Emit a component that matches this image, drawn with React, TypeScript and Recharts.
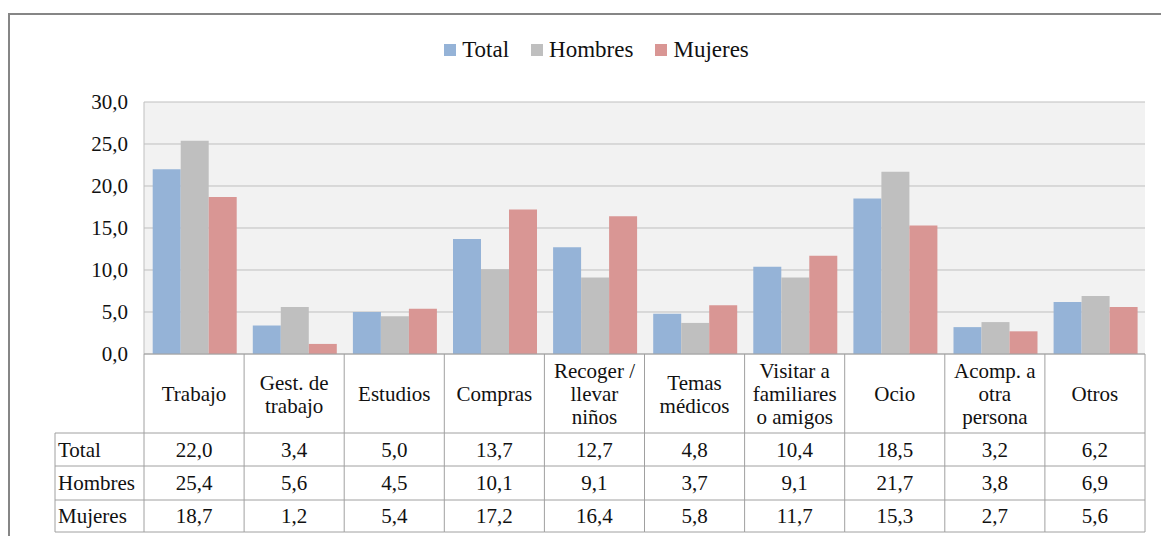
import { BarChart, Bar, XAxis, YAxis, CartesianGrid, Legend } from "recharts";

const categories = [
  "Trabajo",
  "Gest. de\ntrabajo",
  "Estudios",
  "Compras",
  "Recoger /\nllevar\nniños",
  "Temas\nmédicos",
  "Visitar a\nfamiliares\no amigos",
  "Ocio",
  "Acomp. a\notra\npersona",
  "Otros",
];
const total = [22.0, 3.4, 5.0, 13.7, 12.7, 4.8, 10.4, 18.5, 3.2, 6.2];
const hombres = [25.4, 5.6, 4.5, 10.1, 9.1, 3.7, 9.1, 21.7, 3.8, 6.9];
const mujeres = [18.7, 1.2, 5.4, 17.2, 16.4, 5.8, 11.7, 15.3, 2.7, 5.6];
const yTicks = [0, 5, 10, 15, 20, 25, 30];

const series = [
  { key: "Total", color: "#95B3D7", values: total },
  { key: "Hombres", color: "#BFBFBF", values: hombres },
  { key: "Mujeres", color: "#D99694", values: mujeres },
];

const data = categories.map((c, i) => ({
  name: c,
  Total: total[i],
  Hombres: hombres[i],
  Mujeres: mujeres[i],
}));

const FONT = "Liberation Serif, DejaVu Serif, serif";
const W = 1161;
const H = 536;
const LEFT = 144;
const RIGHT = 1145;
const LINE = "#A0A0A0";

const fmt = (v: number) => v.toFixed(1).replace(".", ",");

function TableTick(props: any) {
  const { x, y, payload, index } = props;
  const half = payload && payload.offset ? payload.offset : (RIGHT - LEFT) / categories.length / 2;
  const rows = [79, 112, 146, 178];
  const lines = String(payload.value).split("\n");
  const catMid = y + 40;
  const l = x - half;
  const r = x + half;
  return (
    <g style={{ fontFamily: FONT }} fontSize={21} fill="#111">
      {index === 0 && <line x1={l} x2={l} y1={y} y2={y + rows[3]} stroke={LINE} />}
      <line x1={r} x2={r} y1={y} y2={y + rows[3]} stroke={LINE} />
      {rows.map((dy) => (
        <line key={dy} x1={index === 0 ? 55 : l} x2={r} y1={y + dy} y2={y + dy} stroke={LINE} />
      ))}
      {index === 0 && <line x1={55} x2={55} y1={y + rows[0]} y2={y + rows[3]} stroke={LINE} />}
      {lines.map((t, k) => (
        <text
          key={k}
          x={x}
          y={catMid + (k - (lines.length - 1) / 2) * 23}
          textAnchor="middle"
          dominantBaseline="central"
          style={{ fontFamily: FONT }}
        >
          {t}
        </text>
      ))}
      {series.map((s, k) => (
        <text
          key={s.key}
          x={x}
          y={y + (rows[k] + rows[k + 1]) / 2}
          textAnchor="middle"
          dominantBaseline="central"
          style={{ fontFamily: FONT }}
        >
          {fmt(s.values[index])}
        </text>
      ))}
      {index === 0 &&
        series.map((s, k) => (
          <text
            key={s.key}
            x={58}
            y={y + (rows[k] + rows[k + 1]) / 2}
            dominantBaseline="central"
            style={{ fontFamily: FONT }}
          >
            {s.key}
          </text>
        ))}
    </g>
  );
}

function LegendContent() {
  return (
    <div
      style={{
        display: "flex",
        justifyContent: "center",
        fontFamily: FONT,
        fontSize: 23,
        lineHeight: "26px",
        color: "#111",
        paddingLeft: 54,
      }}
    >
      {series.map((s) => (
        <div key={s.key} style={{ display: "flex", alignItems: "center", marginRight: 22 }}>
          <span style={{ width: 12, height: 12, background: s.color, marginRight: 6, display: "inline-block" }} />
          <span>{s.key}</span>
        </div>
      ))}
    </div>
  );
}

export default function App() {
  return (
    <div style={{ position: "absolute", left: 0, top: 0, width: W, height: H, background: "#fff", fontFamily: FONT }}>
      <div
        style={{
          position: "absolute",
          left: 8,
          top: 13,
          width: W,
          height: H,
          borderLeft: "2px solid #868686",
          borderTop: "2px solid #868686",
        }}
      />
      <BarChart
        width={W}
        height={H}
        data={data}
        margin={{ top: 102, right: W - RIGHT, bottom: 0, left: 0 }}
        barCategoryGap={8.7}
        barGap={0}
        style={{ fontFamily: FONT }}
      >
        <CartesianGrid vertical={false} fill="#F2F2F2" stroke="#BFBFBF" />
        <YAxis
          width={LEFT}
          domain={[0, 30]}
          ticks={yTicks}
          tickFormatter={fmt}
          tickSize={0}
          tickMargin={16}
          axisLine={{ stroke: "#BFBFBF" }}
          tickLine={false}
          tick={{ fontFamily: FONT, fontSize: 21, fill: "#111" }}
        />
        <XAxis
          dataKey="name"
          height={182}
          interval={0}
          tickSize={0}
          tickMargin={0}
          axisLine={{ stroke: LINE }}
          tickLine={false}
          tick={<TableTick />}
        />
        <Legend
          verticalAlign="middle"
          align="center"
          content={<LegendContent />}
          wrapperStyle={{ top: 37, left: 0, width: W }}
        />
        {series.map((s) => (
          <Bar key={s.key} dataKey={s.key} fill={s.color} isAnimationActive={false} />
        ))}
      </BarChart>
    </div>
  );
}
